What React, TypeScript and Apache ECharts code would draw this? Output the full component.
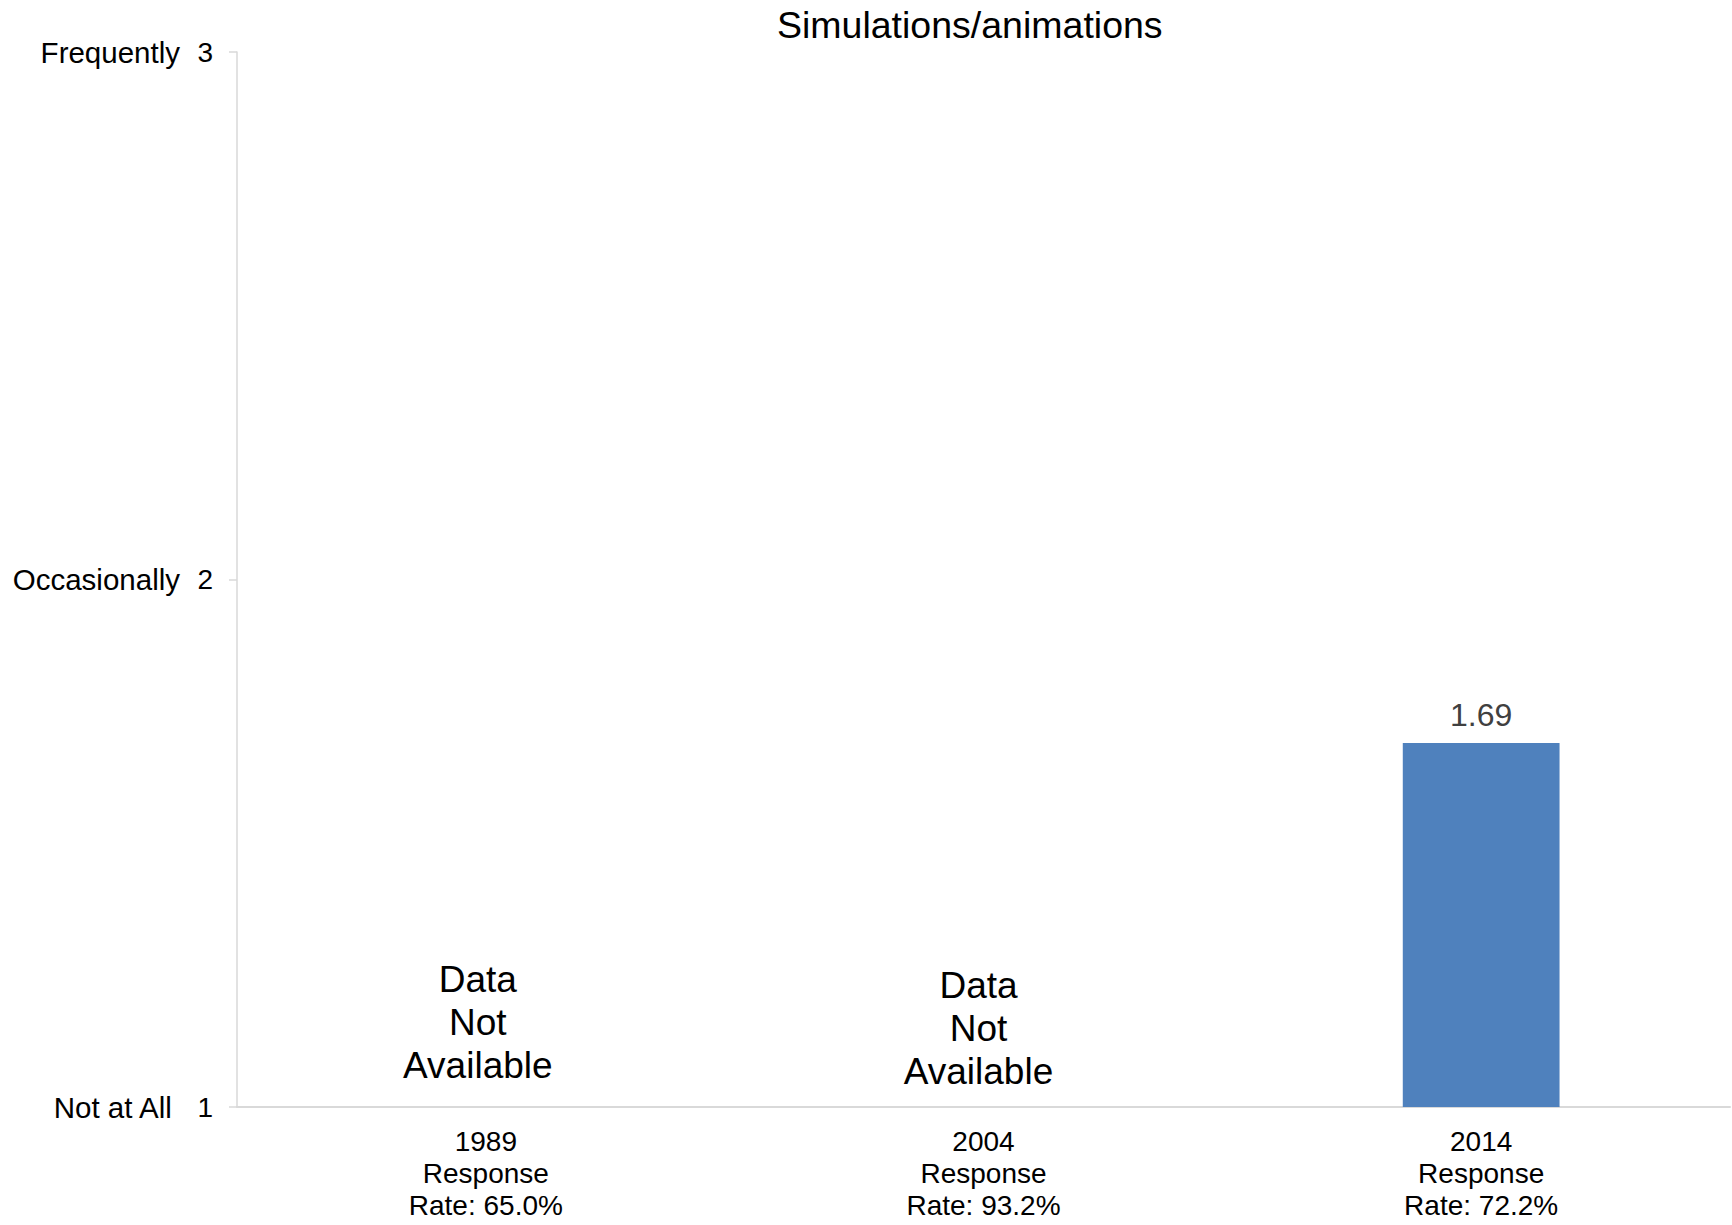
import React, { useEffect, useRef } from "react";
import * as echarts from "echarts";

const titleText = "Simulations/animations";
const categories = ["1989\nResponse\nRate: 65.0%", "2004\nResponse\nRate: 93.2%", "2014\nResponse\nRate: 72.2%"];
const values: (number | null)[] = [null, null, 1.69];
const available = [false, false, true];
const naLabelGap = [20, 14];
const naLabelShift = [-8, -5];
const yTickNames: Record<number, string> = { 1: "Not at All ", 2: "Occasionally", 3: "Frequently" };
const yMin = 1;
const yMax = 3;
const yInterval = 1;

const FONT = "'Liberation Sans', Arial, sans-serif";

export default function App() {
  const ref = useRef<HTMLDivElement>(null);
  useEffect(() => {
    if (!ref.current) return;
    const chart = echarts.init(ref.current, undefined, { renderer: "svg" });
    const naData = available.map((a, i) =>
      a
        ? null
        : {
            value: yMin,
            label: {
              show: true,
              position: "top",
              distance: naLabelGap[i] ?? 17,
              formatter: "Data\nNot\nAvailable",
              fontSize: 37,
              lineHeight: 43,
              color: "#000",
              opacity: 1,
              fontFamily: FONT,
              offset: [naLabelShift[i] ?? 0, 0],
            },
          }
    );
    chart.setOption({
      animation: false,
      textStyle: { fontFamily: FONT },
      title: {
        text: titleText,
        left: 777,
        top: 6,
        padding: 0,
        textStyle: { fontSize: 37.5, fontWeight: "normal", color: "#000", fontFamily: FONT },
      },
      grid: { left: 237, right: 2, top: 52, bottom: 118, containLabel: false },
      xAxis: {
        type: "category",
        data: categories,
        axisLine: { show: true, lineStyle: { color: "#d9d9d9", width: 2 } },
        axisTick: { show: false },
        axisLabel: {
          margin: 18,
          fontSize: 28,
          lineHeight: 32,
          color: "#000",
          fontFamily: FONT,
          interval: 0,
        },
      },
      yAxis: {
        type: "value",
        min: yMin,
        max: yMax,
        interval: yInterval,
        splitLine: { show: false },
        axisLine: { show: true, lineStyle: { color: "#d9d9d9", width: 1.5 } },
        axisTick: { show: true, length: 8, lineStyle: { color: "#d9d9d9", width: 1.5 } },
        axisLabel: {
          margin: 24,
          color: "#000",
          fontFamily: FONT,
          formatter: (v: number) => `{n|${yTickNames[v] ?? ""}}{v|${v}}`,
          rich: {
            n: { fontSize: 29.5, color: "#000", fontFamily: FONT },
            v: { fontSize: 28, color: "#000", fontFamily: FONT, width: 33, align: "right" },
          },
        },
      },
      series: [
        {
          type: "bar",
          data: values,
          barWidth: "31.5%",
          itemStyle: { color: "#4f81bd" },
          label: {
            show: true,
            position: "top",
            distance: 12,
            fontSize: 32,
            color: "#404040",
            fontFamily: FONT,
            formatter: (p: any) => (p.value == null ? "" : Number(p.value).toFixed(2)),
          },
        },
        {
          type: "scatter",
          data: naData,
          symbolSize: 1,
          itemStyle: { color: "rgba(0,0,0,0)", opacity: 1 },
          label: { color: "#000", opacity: 1 },
          silent: true,
        },
      ],
    });
    return () => chart.dispose();
  }, []);
  return (
    <div
      ref={ref}
      style={{ position: "absolute", left: 0, top: 0, width: 1732, height: 1225, background: "#fff" }}
    />
  );
}
